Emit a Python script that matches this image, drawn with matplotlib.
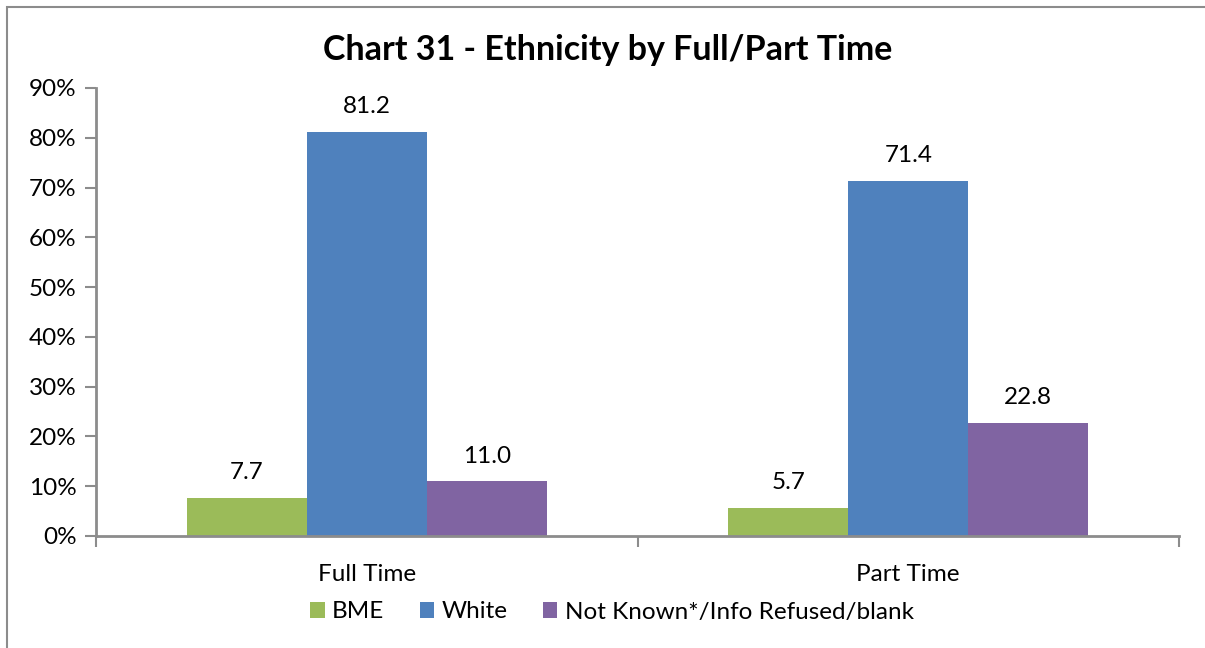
import matplotlib
matplotlib.use("Agg")
import matplotlib.pyplot as plt
from matplotlib.patches import Rectangle
import numpy as np

categories = ["Full Time", "Part Time"]
series_names = ["BME", "White", "Not Known*/Info Refused/blank"]
bme = [7.7, 5.7]
white = [81.2, 71.4]
not_known = [11.0, 22.8]
colors = ["#9BBB59", "#4F81BD", "#8064A2"]
y_ticks = [0, 10, 20, 30, 40, 50, 60, 70, 80, 90]

plt.rcParams["font.family"] = ["Lato", "DejaVu Sans"]
FS = 17.5

fig = plt.figure(figsize=(12.05, 6.48), dpi=100)
ax = fig.add_axes([96 / 1205, 1 - 536 / 648, (1179 - 96) / 1205, (536 - 88) / 648])

# outer chart frame (right and bottom edges fall outside the canvas)
fig.patches.append(Rectangle((7 / 1205, -0.05), 1.1, 1 - 7 / 648 + 0.05,
                             transform=fig.transFigure, fill=False,
                             edgecolor="#8C8C8C", linewidth=1.5))

x = np.arange(len(categories))
w = 120 / 541
for i, (vals, name, c) in enumerate(zip([bme, white, not_known], series_names, colors)):
    pos = x + (i - 1) * w
    bars = ax.bar(pos, vals, width=w, color=c, label=name, zorder=2)
    for b, v in zip(bars, vals):
        ax.text(b.get_x() + b.get_width() / 2, v + 3.7, f"{v:.1f}",
                ha="center", va="baseline", fontsize=FS)

ax.set_xlim(-0.5, 1.5)
ax.set_ylim(0, 90)
ax.set_yticks(y_ticks)
ax.set_yticklabels([f"{t}%" for t in y_ticks], fontsize=FS)
ax.set_xticks(x)
ax.set_xticklabels(categories, fontsize=FS)
ax.tick_params(axis="x", length=0, pad=20)
ax.set_xticks([-0.5, 0.5, 1.5], minor=True)
ax.tick_params(axis="x", which="minor", length=8, color="#8C8C8C", width=1.5)
ax.tick_params(axis="y", length=8, color="#8C8C8C", width=1.5, pad=6)

for s in ["top", "right"]:
    ax.spines[s].set_visible(False)
for s in ["left", "bottom"]:
    ax.spines[s].set_color("#8C8C8C")
    ax.spines[s].set_linewidth(2)

fig.text(608 / 1205, 1 - 50 / 648, "Chart 31 - Ethnicity by Full/Part Time",
         ha="center", va="center", fontsize=24.5, fontweight="bold")

fig.legend(loc="center", bbox_to_anchor=(612 / 1205, 1 - 612 / 648), ncol=3,
           frameon=False, fontsize=FS, handlelength=0.6, handleheight=0.6,
           handletextpad=0.3, columnspacing=1.45)

fig.savefig("out.png", dpi=100)
